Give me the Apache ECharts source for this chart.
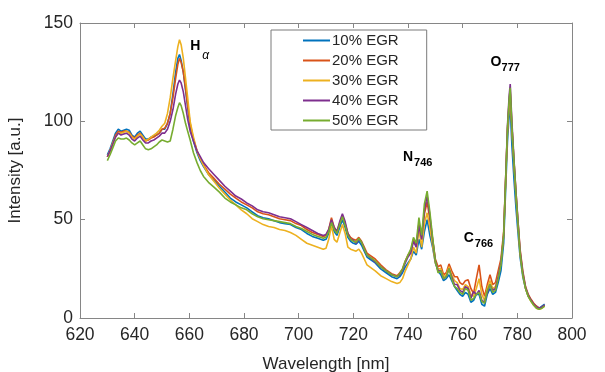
<!DOCTYPE html>
<html><head><meta charset="utf-8">
<script src="https://cdn.jsdelivr.net/npm/echarts@6/dist/echarts.min.js"></script>
<style>html,body{margin:0;padding:0;background:#fff}#c{width:605px;height:372px}</style>
</head><body><div id="c"></div>
<script>
// wavelength grid (nm)
const wavelengths = [
630,631,632,633,634,635,636,637,638,639,640,641,642,643,644,645,646,647,648,649,650,651,652,653,654,655,
655.8,656.4,657,657.8,658.6,659.4,660.3,661.5,662.8,664,665.2,
667,669,671,673,675,677,679,681,683,685,687,689,691,693,695,697,699,701,703,705,707,
708,709,710,711,712,713,714,715,716,717,718,719,720,721,722,723,724,725,726,
728,730,732,734,736,
737,738,739,740,741,742,743,744,745,746,747,748,749,750,751,752,753,754,755,756,757,758,759,760,761,762,763,764,765,766,767,768,769,770,771,772,773,774,775,
775.8,776.4,777,777.4,778,778.8,779.5,780.2,
781,782,783,784,785,786,787,788,789,790];

const egr10 = [
83,86,90,94,96,95,95.5,96,95.5,93,92,94,95,93,91,91,92,92.5,93,94,96,96,99,104,114,125,
132,134,131,125,116,107,97,90,84,80,77,
73,70,67,64,61,59,57.5,56,54,52,51,50.5,49.5,48.5,48,47.5,46,45,43,41.5,40.5,
40,39.5,40,43,48,44,42,46,50,46,41,39,38,37.5,39,37,34,31,30,
28,25,23,21,20,
21,23,26,28,30,34,32,40,35,44,50,42,36,28,24,22,19,20,22,19,16,14,12,11,13,12,8,9,12,12,7,6,12,15,12,13,18,24,38,
68,90,103,107,88,70,56,44,
31,21,15,11,9,7,6,5,6,7];

const egr20 = [
82,85,89,93,95,94.5,95,95,94.5,92.5,91.5,93,94,92,90,90.5,91.5,92,93,94,96,96.5,99,104,112,122,
129,132,130,125,117,108,99,91,85,81,78,
74,71,68,65.5,63,61,59,57.5,56,54,53,52.5,51.5,50.5,50,49.5,48,47,45,43.5,42.5,
42,41.5,42,45,51,46,44,48,52,48,43,41,40,39.5,41,39,36,33,32,
30,27,24.5,22.5,21.5,
23,25,29,32,34,40,37,48,40,53,59,50,40,30,26,27,22,23,27.5,24,21,21,18,17,19,19.5,15,12.5,20,27,16,11,17,22,17,18,24,30,44,
74,96,110,115,98,79,64,50,
35,24,16,12,9.5,7.5,6,5,5.5,6.5];

const egr30 = [
82,85,89,92,94,94,94.5,95,94,92,91,92.5,93.5,92,90,91,92,93,94,95.5,97.5,99,104,112,122,131,
138,141.5,139,132,122,112,100,92,85,81,77.5,
73,69.5,66,63,60,57.5,55,53,50.5,49,47.5,46.5,46,45,44.5,43.5,42,40,38,37,36,
35.5,35,35.5,40,47,40,38.5,43,47.5,43,36,35,34.5,34,35,33,30,27,26,
24,21.5,20,18.5,17.5,
18,20,24,27,30,36,33,45,36,48,53.5,46,37,28,25,25,21,22,26,22,19,18,15,14.5,17,16,12,11,15,20,12,9,15,19,15,16,21,28,42,
72,95,108,114,96,77,62,48,
33,22,15,11,8.5,6.5,5,4.5,5,6];

const egr40 = [
82,85,88.5,92,94,93,93.5,94,93,91,90,91.5,92.5,90.5,89,89,90,90.5,91.5,92.5,94,94,96,100,106,114,
119,121,119.5,115,108,101,95,90,85,82,79,
76,73,70,67,64.5,62,60.5,58.5,57,55,54,53.5,52.5,51.5,51,50.5,49,47.5,46,44.5,43,
42.5,42,42.5,45,50,46,44,49,53,49,43,40,39.5,38,40,38.5,35,32,31,
28.5,26,24,22,21,
22,24.5,28,31,33,39,36,47,40,55,62,52,40,29,24,24,20,21,25,21,17,17,14,13,16,15,10,13.5,12,14,9,8,13,17,14,15,21,28,42,
74,98,113,119,100,80,64,50,
34,23,15.5,11.5,9,7,5.5,5,5.5,6.5];

const egr50 = [
80,83,86.5,90,91.5,91,91,91.5,90.5,89,88,89,90,88,86,85.5,86,87,88,89.5,90.5,90,89.5,90,96,103,
107,109.5,108,104,99,95,90.5,84,79,75,72,
69,66.5,64,61,59,57.5,56,55,53,51.5,50.5,50,49.5,49,48.5,48,46.5,45.5,44,42.5,41.5,
41,40.5,41,44,48.5,45,43,47.5,51.5,47,42,40,39,38.5,40.5,38.5,35,32,31,
29,26,24,22,21,
22.5,25,29,32,35,41,38,51,42,58,64.5,54,41,29,23,24,20,21,25,20,16,15,13,12,15,14,9,10,12,13,8.5,7.5,14,17,13,14,20,27,42,
73,97,111,117,98,79,63,49,
33,22,15,11,8.5,6.5,5,4.5,5,6];

const seriesNames = ['10% EGR','20% EGR','30% EGR','40% EGR','50% EGR'];
const seriesColors = ['#0072BD','#D95319','#EDB120','#7E2F8E','#77AC30'];
const seriesValues = [egr10, egr20, egr30, egr40, egr50];

const xTicks = {min:620, max:800, interval:20};
const yTicks = {min:0, max:150, interval:50};

// annotations: [main, subscript, wavelength, intensity, subItalic]
const annotations = [
  ['H','\u03b1',660.3,138,true],
  ['N','746',738.2,82,false],
  ['C','766',760.4,40.5,false],
  ['O','777',770.2,130,false]
];

const chart = echarts.init(document.getElementById('c'), null, {renderer:'canvas'});
const FONT = '"Liberation Sans", Arial, Helvetica, sans-serif';
const axisCol = '#868686';
const textCol = '#262626';

const series = seriesValues.map((vals,i)=>({
  name: seriesNames[i], type:'line', symbol:'none', showSymbol:false,
  data: vals.map((v,j)=>[wavelengths[j], v]),
  lineStyle:{width:1.6, color:seriesColors[i]}, itemStyle:{color:seriesColors[i]},
  animation:false, z: 2+i
}));

chart.setOption({
  animation:false,
  backgroundColor:'#fff',
  textStyle:{fontFamily:FONT},
  grid:{left:80, right:33, top:23, bottom:54, containLabel:false, outerBoundsMode:'none'},
  legend:{
    orient:'vertical', left:271, top:30,
    data: seriesNames.map(n=>({name:n, icon:'rect'})),
    itemWidth:27, itemHeight:2, itemGap:5,
    padding:[3,28,2,32],
    borderColor:'#7a7a7a', borderWidth:1, backgroundColor:'#fff',
    textStyle:{fontSize:15, color:textCol, fontFamily:FONT, padding:[0,0,0,-3]},
    selectedMode:false
  },
  xAxis:[{
    type:'value', min:xTicks.min, max:xTicks.max, interval:xTicks.interval,
    name:'Wavelength [nm]', nameLocation:'middle', nameGap:38,
    nameTextStyle:{fontSize:17, color:textCol, fontFamily:FONT},
    axisLine:{show:true, onZero:false, lineStyle:{color:axisCol, width:1}},
    axisTick:{show:true, inside:true, length:5, lineStyle:{color:axisCol}},
    axisLabel:{fontSize:17.5, color:textCol, margin:8, fontFamily:FONT},
    splitLine:{show:false}
  },{
    type:'value', position:'top', min:xTicks.min, max:xTicks.max, interval:xTicks.interval,
    axisLine:{show:true, onZero:false, lineStyle:{color:axisCol, width:1}},
    axisTick:{show:true, inside:true, length:5, lineStyle:{color:axisCol}},
    axisLabel:{show:false}, splitLine:{show:false}
  }],
  yAxis:[{
    type:'value', min:yTicks.min, max:yTicks.max, interval:yTicks.interval,
    name:'Intensity [a.u.]', nameLocation:'middle', nameGap:56, nameRotate:90,
    nameTextStyle:{fontSize:17, color:textCol, fontFamily:FONT},
    axisLine:{show:true, onZero:false, lineStyle:{color:axisCol, width:1}},
    axisTick:{show:true, inside:true, length:5, lineStyle:{color:axisCol}},
    axisLabel:{fontSize:17.5, color:textCol, margin:7, fontFamily:FONT},
    splitLine:{show:false}
  },{
    type:'value', position:'right', min:yTicks.min, max:yTicks.max, interval:yTicks.interval,
    axisLine:{show:true, onZero:false, lineStyle:{color:axisCol, width:1}},
    axisTick:{show:true, inside:true, length:5, lineStyle:{color:axisCol}},
    axisLabel:{show:false}, splitLine:{show:false}
  }],
  series: series
});

const graphics = [];
annotations.forEach(a=>{
  const p = chart.convertToPixel({xAxisIndex:0, yAxisIndex:0}, [a[2], a[3]]);
  graphics.push({type:'text', x:p[0], y:p[1], z:100,
    style:{text:a[0], font:'bold 14px '+FONT, fill:'#000', textVerticalAlign:'middle', textAlign:'left'}});
  const w = a[0]==='H' ? 12 : 11;
  graphics.push({type:'text', x:p[0]+w, y:p[1]+(a[4]?9:6), z:100,
    style:{text:a[1], font:(a[4]?'italic 12px ':'bold 11px ')+FONT, fill:'#000', textVerticalAlign:'middle', textAlign:'left'}});
});
chart.setOption({graphic:graphics});
</script>
</body></html>
